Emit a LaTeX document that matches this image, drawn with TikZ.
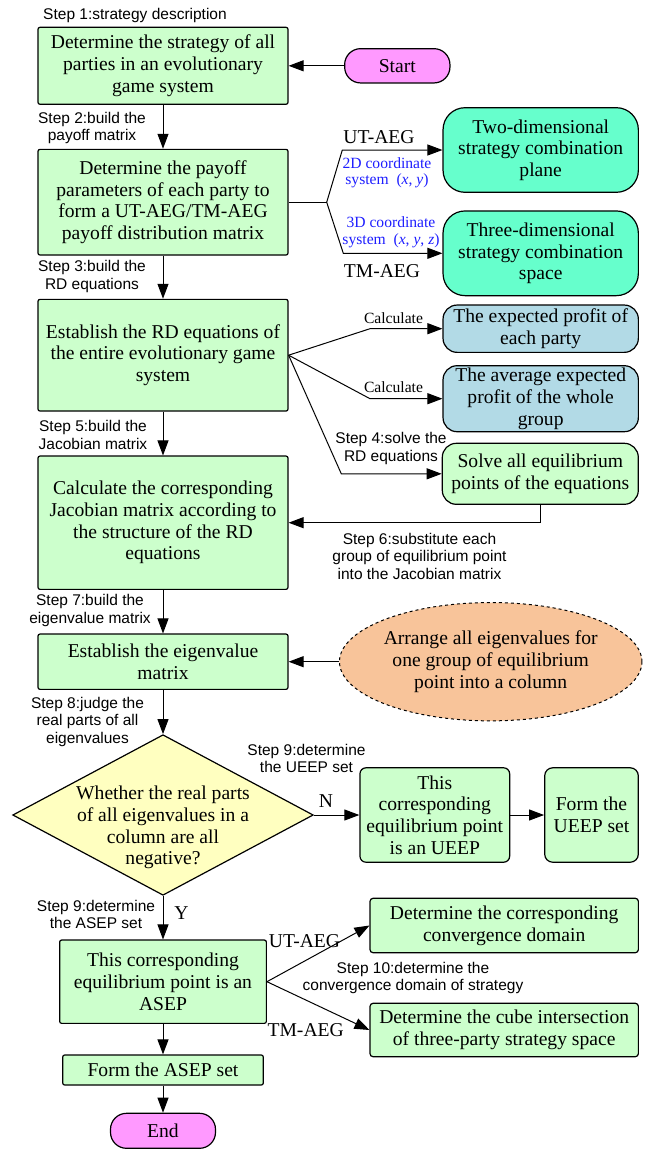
\documentclass[tikz,border=0pt]{standalone}
\usepackage{fontspec}
\setmainfont{Liberation Serif}
\setsansfont{Liberation Sans}
\usepackage{tikz}
\usetikzlibrary{arrows.meta}
\usetikzlibrary{shapes.geometric}

\definecolor{boxgreen}{RGB}{204,255,204}
\definecolor{boxaqua}{RGB}{102,255,204}
\definecolor{boxblue}{RGB}{178,218,230}
\definecolor{boxpink}{RGB}{255,153,255}
\definecolor{boxyellow}{RGB}{255,255,192}
\definecolor{boxpeach}{RGB}{248,196,154}
\definecolor{noteblue}{RGB}{30,30,255}

\newcommand{\boxfont}{\fontsize{19.6}{21.7}\selectfont}
\newcommand{\stepfont}{\sffamily\fontsize{15.5}{17.5}\selectfont}
\newcommand{\notefont}{\fontsize{15.6}{16.7}\selectfont}

\tikzset{
 stepbox/.style={draw, line width=1.2pt, fill=boxgreen, rounded corners=2pt, align=center, inner sep=0pt, font=\boxfont},
 pill/.style={draw, line width=1.2pt, fill=boxpink, rounded corners=16pt, inner sep=0pt, font=\boxfont},
 sidebox/.style={draw, line width=1.2pt, rounded corners=14pt, align=center, inner sep=0pt, font=\boxfont},
 steplabel/.style={align=center, inner sep=0pt, font=\stepfont},
 caselabel/.style={inner sep=0pt, font=\boxfont},
 notelabel/.style={align=center, inner sep=0pt, text=noteblue, font=\notefont},
 flow/.style={line width=1pt, -{Triangle[length=15pt,width=11pt]}},
 plain/.style={line width=1pt}
}

\begin{document}
\begin{tikzpicture}[x=1pt, y=-1pt]
 \useasboundingbox (0,0) rectangle (648,1149);

 \node[stepbox, minimum width=250pt, minimum height=77pt] (strategy) at (163,65.8) {Determine the strategy of all\\parties in an evolutionary\\game system};
 \node[stepbox, minimum width=250pt, minimum height=105.7pt] (payoff) at (163,202.2) {Determine the payoff\\parameters of each party to\\form a UT-AEG/TM-AEG\\payoff distribution matrix};
 \node[stepbox, minimum width=250pt, minimum height=111.7pt] (rdeq) at (163,355.2) {Establish the RD equations of\\the entire evolutionary game\\system};
 \node[stepbox, minimum width=250pt, minimum height=133.3pt] (jacobian) at (163,522.7) {Calculate the corresponding\\Jacobian matrix according to\\the structure of the RD\\equations};
 \node[stepbox, minimum width=250pt, minimum height=55.3pt] (eigen) at (163,661.7) {Establish the eigenvalue\\matrix};
 \node[diamond, draw, line width=1.2pt, fill=boxyellow, inner sep=0pt, minimum width=300.6pt, minimum height=160.6pt] (judge) at (163,815) {};
 \node[stepbox, draw=none, fill=none] (judgetext) at (163,827.5) {Whether the real parts\\of all eigenvalues in a\\column are all\\negative?};
 \node[stepbox, minimum width=206.7pt, minimum height=83.3pt] (asep) at (163,981.7) {This corresponding\\equilibrium point is an\\ASEP};
 \node[stepbox, minimum width=200.6pt, minimum height=30pt] (formasep) at (163,1070) {Form the ASEP set};
 \node[pill, minimum width=105pt, minimum height=35pt] (finish) at (163,1130.8) {End};

 \node[pill, minimum width=105.3pt, minimum height=34.3pt] (start) at (397.3,65.8) {Start};
 \node[sidebox, fill=boxaqua, rounded corners=22pt, minimum width=195.3pt, minimum height=84.6pt] (twod) at (540.7,150) {Two-dimensional\\strategy combination\\plane};
 \node[sidebox, fill=boxaqua, rounded corners=22pt, minimum width=195.3pt, minimum height=84.7pt] (threed) at (540.7,253.3) {Three-dimensional\\strategy combination\\space};
 \node[sidebox, fill=boxblue, minimum width=195.3pt, minimum height=47.3pt] (profit) at (540.7,328.7) {The expected profit of\\each party};
 \node[sidebox, fill=boxblue, minimum width=195.3pt, minimum height=66pt] (avgprofit) at (540.7,398.7) {The average expected\\profit of the whole\\group};
 \node[sidebox, fill=boxgreen, minimum width=196pt, minimum height=61pt] (solve) at (540.3,473.8) {Solve all equilibrium\\points of the equations};
 \node[ellipse, draw, dashed, line width=1pt, fill=boxpeach, align=center, inner sep=0pt, font=\boxfont, minimum width=246.7pt, minimum height=118.3pt] (arrange) at (490.7,661.7) {Arrange all eigenvalues for\\one group of equilibrium\\point into a column};
 \node[sidebox, fill=boxgreen, rounded corners=6pt, minimum width=149.7pt, minimum height=94.4pt] (ueep) at (434.8,815) {This\\corresponding\\equilibrium point\\is an UEEP};
 \node[sidebox, fill=boxgreen, rounded corners=8pt, minimum width=93.6pt, minimum height=94.4pt] (formueep) at (591.5,815) {Form the\\UEEP set};
 \node[sidebox, fill=boxgreen, rounded corners=3pt, minimum width=268.3pt, minimum height=54.4pt] (conv) at (504.2,925.5) {Determine the corresponding\\convergence domain};
 \node[sidebox, fill=boxgreen, rounded corners=3pt, minimum width=268.3pt, minimum height=53.4pt] (cube) at (504.2,1030) {Determine the cube intersection\\of three-party strategy space};

 \node[steplabel] (step1) at (135,15) {Step 1:strategy description};
 \node[steplabel] (step2) at (92,128) {Step 2:build the\\payoff matrix};
 \node[steplabel] (step3) at (92,276.5) {Step 3:build the\\RD equations};
 \node[steplabel] (step4) at (391,448.3) {Step 4:solve the\\RD equations};
 \node[steplabel] (step5) at (93,435) {Step 5:build the\\Jacobian matrix};
 \node[steplabel] (step6) at (419.5,556) {Step 6:substitute each\\group of equilibrium point\\into the Jacobian matrix};
 \node[steplabel] (step7) at (90,610.5) {Step 7:build the\\eigenvalue matrix};
 \node[steplabel] (step8) at (87.5,721.7) {Step 8:judge the\\real parts of all\\eigenvalues};
 \node[steplabel] (step9u) at (306.5,758.5) {Step 9:determine\\the UEEP set};
 \node[steplabel] (step9a) at (96,914.5) {Step 9:determine\\the ASEP set};
 \node[steplabel] (step10) at (413,978) {Step 10:determine the\\convergence domain of strategy};

 \node[caselabel] (utup) at (379,137) {UT-AEG};
 \node[caselabel] (tmup) at (382,271) {TM-AEG};
 \node[notelabel] (twodnote) at (387,172.7) {2D coordinate\\system\ \ (\textit{x}, \textit{y})};
 \node[notelabel] (threednote) at (391,232) {3D coordinate\\system\ \ (\textit{x}, \textit{y}, \textit{z})};
 \node[notelabel, text=black] (calcA) at (393.5,318.3) {Calculate};
 \node[notelabel, text=black] (calcB) at (393.5,387.3) {Calculate};
 \node[caselabel] (nolabel) at (326,801) {N};
 \node[caselabel] (yeslabel) at (181.5,913.3) {Y};
 \node[caselabel] (utdown) at (304.5,941) {UT-AEG};
 \node[caselabel] (tmdown) at (305.7,1030) {TM-AEG};

 \coordinate (fork1) at (326.7,202.2);
 \coordinate (bend2d) at (342.3,150);
 \coordinate (bend3d) at (343.3,253.3);
 \coordinate (bendA) at (370,328.7);
 \coordinate (bendB) at (370,398.7);
 \coordinate (bendC) at (341.3,473.8);

 \draw[flow] (start.west) -- (strategy.east |- start.west);
 \foreach \a/\b in {strategy/payoff, payoff/rdeq, rdeq/jacobian, jacobian/eigen, eigen/judge, judge/asep, asep/formasep, formasep/finish}
  \draw[flow] (\a) -- (\b);

 \draw[plain] (payoff.east) -- (fork1);
 \draw[flow] (fork1) -- (bend2d) -- (twod.west);
 \draw[flow] (fork1) -- (bend3d) -- (threed.west);

 \draw[flow] (rdeq.east) -- (bendA) -- (profit.west);
 \draw[flow] (rdeq.east) -- (bendB) -- (avgprofit.west);
 \draw[flow] (rdeq.east) -- (bendC) -- (solve.west);
 \draw[flow] (solve.south) |- (jacobian.east);

 \draw[flow] (arrange.west) -- (eigen.east);
 \draw[flow] (judge.east) -- (ueep.west);
 \draw[flow] (ueep.east) -- (formueep.west);
 \draw[flow] (asep.east) -- (conv.west);
 \draw[flow] (asep.east) -- (cube.west);

\end{tikzpicture}
\end{document}
